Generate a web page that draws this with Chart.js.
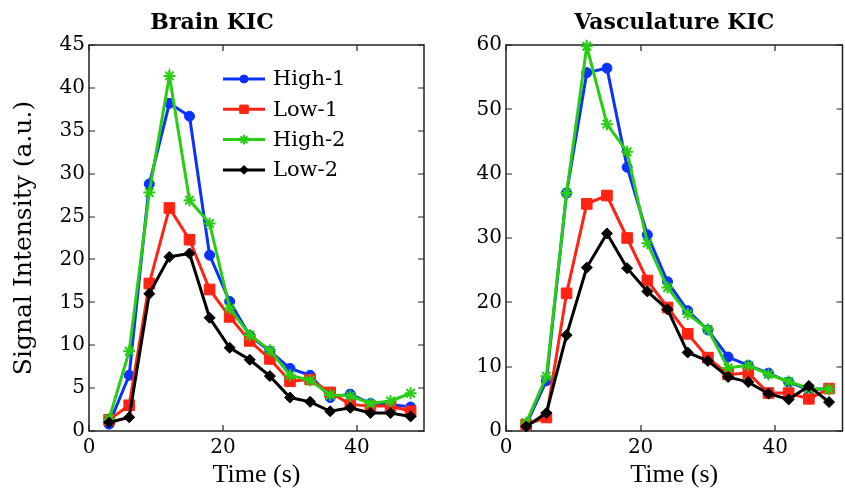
<!DOCTYPE html>
<html>
<head>
<meta charset="utf-8">
<title>KIC signal intensity</title>
<script src="https://cdn.jsdelivr.net/npm/chart.js@4.4.0/dist/chart.umd.min.js"></script>
<style>
  html, body { margin: 0; padding: 0; background: #fff; }
  #wrap { position: relative; width: 845px; height: 491px; overflow: hidden; }
  .panel { position: absolute; top: 0; }
  #brainPanel { left: 0; }
  #vascPanel { left: 436px; }
</style>
</head>
<body>
<div id="wrap">
  <div class="panel" id="brainPanel"><canvas id="brainChart" width="458" height="491"></canvas></div>
  <div class="panel" id="vascPanel"><canvas id="vascChart" width="415" height="491"></canvas></div>
</div>
<script>
// acquisition times (s)
const time = [3, 6, 9, 12, 15, 18, 21, 24, 27, 30, 33, 36, 39, 42, 45, 48];

// brain KIC signal (a.u.)
const brainHigh1 = [0.8, 6.5, 28.8, 38.2, 36.7, 20.5, 15.1, 11.1, 9.3, 7.3, 6.5, 3.9, 4.3, 3.2, 3.1, 2.8];
const brainLow1  = [1.3, 3.0, 17.2, 26.0, 22.3, 16.5, 13.3, 10.5, 8.4, 5.8, 6.0, 4.5, 3.1, 2.9, 2.9, 2.3];
const brainHigh2 = [1.4, 9.3, 27.8, 41.4, 26.9, 24.2, 14.3, 11.2, 9.4, 6.5, 5.9, 4.2, 4.1, 3.2, 3.5, 4.4];
const brainLow2  = [1.0, 1.6, 16.0, 20.3, 20.7, 13.2, 9.7, 8.3, 6.4, 3.9, 3.4, 2.3, 2.7, 2.1, 2.1, 1.7];

// vasculature KIC signal (a.u.)
const vascHigh1 = [1.0, 7.8, 37.0, 55.7, 56.4, 41.0, 30.5, 23.2, 18.7, 15.7, 11.5, 10.2, 9.0, 7.6, 6.4, 6.6];
const vascLow1  = [1.0, 2.1, 21.4, 35.3, 36.6, 30.0, 23.4, 19.2, 15.1, 11.4, 8.8, 9.0, 5.9, 5.9, 5.0, 6.6];
const vascHigh2 = [1.3, 8.5, 37.0, 59.8, 47.7, 43.4, 29.2, 22.3, 18.2, 15.8, 9.8, 10.2, 8.8, 7.7, 6.6, 6.5];
const vascLow2  = [0.7, 2.8, 14.9, 25.4, 30.7, 25.3, 21.7, 18.9, 12.2, 10.9, 8.4, 7.6, 5.8, 4.9, 7.0, 4.5];

const seriesNames = ['High-1', 'Low-1', 'High-2', 'Low-2'];

const SERIF = '"DejaVu Serif", "Liberation Serif", serif';
const TIMES = '"Liberation Serif", "DejaVu Serif", serif';

// line / marker look for each series
const seriesStyle = [
  { color: 'rgb(10, 50, 255)', pointStyle: 'circle',  radius: 5,   order: 4 },
  { color: 'rgb(255, 35, 20)', pointStyle: 'rect',    radius: 7.5, order: 3 },
  { color: 'rgb(40, 205, 20)', pointStyle: 'star',    radius: 6,   order: 2 },
  { color: '#000000',          pointStyle: 'rectRot', radius: 5.5, order: 1 }
];

function makeDatasets(series) {
  return series.map((values, i) => {
    const st = seriesStyle[i];
    return {
      label: seriesNames[i],
      data: time.map((t, k) => ({ x: t, y: values[k] })),
      borderColor: st.color,
      backgroundColor: st.color,
      borderWidth: 3,
      pointStyle: st.pointStyle,
      pointRadius: st.radius,
      pointBackgroundColor: st.color,
      pointBorderColor: st.color,
      pointBorderWidth: st.pointStyle === 'star' ? 2 : 1,
      tension: 0,
      clip: false,
      order: st.order
    };
  });
}

// box around the plot area with inward tick marks on all four sides
const axesBox = {
  id: 'axesBox',
  beforeDatasetsDraw(chart) {
    const { ctx, chartArea: a, scales: { x, y } } = chart;
    const len = 6;
    ctx.save();
    ctx.strokeStyle = '#222';
    ctx.lineWidth = 1.5;
    ctx.strokeRect(a.left, a.top, a.right - a.left, a.bottom - a.top);
    ctx.lineWidth = 1.2;
    ctx.beginPath();
    x.ticks.forEach(t => {
      const px = Math.round(x.getPixelForValue(t.value));
      ctx.moveTo(px, a.bottom); ctx.lineTo(px, a.bottom - len);
      ctx.moveTo(px, a.top);    ctx.lineTo(px, a.top + len);
    });
    y.ticks.forEach(t => {
      const py = Math.round(y.getPixelForValue(t.value));
      ctx.moveTo(a.left, py);  ctx.lineTo(a.left + len, py);
      ctx.moveTo(a.right, py); ctx.lineTo(a.right - len, py);
    });
    ctx.stroke();
    ctx.restore();
  }
};

// legend drawn inside the plot: line sample + marker + name
const seriesKey = {
  id: 'seriesKey',
  afterDatasetsDraw(chart, args, opts) {
    if (!opts.show) return;
    const { ctx, chartArea: a } = chart;
    ctx.save();
    chart.data.datasets.forEach((ds, i) => {
      const yy = a.top + opts.top + i * opts.rowHeight;
      const x0 = a.left + opts.left;
      ctx.strokeStyle = ds.borderColor;
      ctx.lineWidth = ds.borderWidth;
      ctx.beginPath();
      ctx.moveTo(x0, yy);
      ctx.lineTo(x0 + opts.lineLength, yy);
      ctx.stroke();
      ctx.fillStyle = ds.pointBackgroundColor;
      ctx.strokeStyle = ds.pointBorderColor;
      ctx.lineWidth = ds.pointBorderWidth;
      Chart.helpers.drawPoint(ctx, {
        pointStyle: ds.pointStyle,
        radius: ds.pointRadius * 0.8,
        borderWidth: ds.pointBorderWidth,
        rotation: 0
      }, x0 + opts.lineLength / 2, yy);
      ctx.fillStyle = '#000';
      ctx.font = '21px ' + SERIF;
      ctx.textBaseline = 'middle';
      ctx.textAlign = 'left';
      ctx.fillText(ds.label, x0 + opts.lineLength + 8, yy + 1);
    });
    ctx.restore();
  }
};

function buildOptions(cfg) {
  return {
    responsive: false,
    animation: false,
    events: [],
    layout: { padding: cfg.padding },
    plugins: {
      legend: { display: false },
      tooltip: { enabled: false },
      title: {
        display: true,
        text: cfg.title,
        fullSize: cfg.titleFullSize,
        color: '#000',
        font: { family: SERIF, size: 22, weight: 'bold' },
        padding: { top: 10, bottom: 8.6 }
      },
      seriesKey: { show: cfg.key, left: 134, top: 34, rowHeight: 30.3, lineLength: 42 }
    },
    scales: {
      x: {
        type: 'linear',
        min: 0,
        max: 50,
        border: { display: false },
        grid: { display: false, drawTicks: false },
        ticks: {
          stepSize: 20,
          includeBounds: false,
          padding: 5,
          maxRotation: 0,
          color: '#000',
          font: { family: SERIF, size: 20 }
        },
        title: {
          display: true,
          text: 'Time (s)',
          color: '#000',
          font: { family: TIMES, size: 26 },
          padding: { top: 0, bottom: 0 }
        },
        afterFit(scale) { scale.height = 60; }
      },
      y: {
        type: 'linear',
        min: 0,
        max: cfg.yMax,
        border: { display: false },
        grid: { display: false, drawTicks: false },
        ticks: {
          stepSize: cfg.yStep,
          padding: 4,
          color: '#000',
          font: { family: SERIF, size: 20 }
        },
        title: {
          display: !!cfg.yTitle,
          text: cfg.yTitle || '',
          color: '#000',
          font: { family: SERIF, size: 25 },
          padding: { top: 9, bottom: 0 }
        },
        afterFit(scale) { scale.width = cfg.yWidth; }
      }
    }
  };
}

new Chart(document.getElementById('brainChart'), {
  type: 'line',
  data: { datasets: makeDatasets([brainHigh1, brainLow1, brainHigh2, brainLow2]) },
  options: buildOptions({
    title: 'Brain KIC',
    titleFullSize: true,
    yMax: 45,
    yStep: 5,
    yTitle: 'Signal Intensity (a.u.)',
    yWidth: 89,
    key: true,
    padding: { left: 0, right: 34, top: 0, bottom: 0 }
  }),
  plugins: [axesBox, seriesKey]
});

new Chart(document.getElementById('vascChart'), {
  type: 'line',
  data: { datasets: makeDatasets([vascHigh1, vascLow1, vascHigh2, vascLow2]) },
  options: buildOptions({
    title: 'Vasculature KIC',
    titleFullSize: false,
    yMax: 60,
    yStep: 10,
    yTitle: null,
    yWidth: 70,
    key: false,
    padding: { left: 0, right: 3, top: 0, bottom: 0 }
  }),
  plugins: [axesBox, seriesKey]
});
</script>
</body>
</html>
